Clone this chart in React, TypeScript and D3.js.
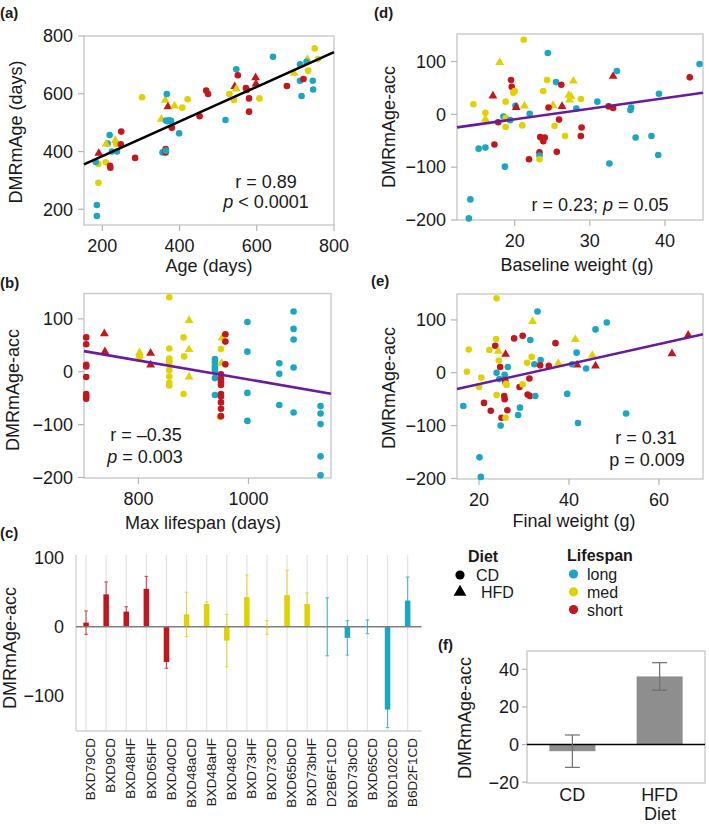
import React from 'react';
import * as d3 from 'd3';

const FONT = '"Liberation Sans", Arial, Helvetica, sans-serif';

// ---------- categories ----------
const lifespanCodes = ['L', 'M', 'S'];
const lifespanLabels = ['long', 'med', 'short'];
const lifespanColors = ['#1ba7c1', '#e0d200', '#c4161d'];
const dietCodes = ['C', 'H'];
const dietLabels = ['CD', 'HFD'];

type Pt = [number, number, string, string]; // x, y, lifespan, diet

// ---------- (a) Age vs DMRmAge ----------
const agePoints: Pt[] = [
  [186, 215, 'L', 'C'], [186, 177, 'L', 'C'], [190, 292, 'M', 'C'], [190, 357, 'M', 'C'], [183, 364, 'L', 'C'],
  [191, 394, 'S', 'H'], [209, 363, 'M', 'C'], [214, 428, 'L', 'C'], [210, 426, 'M', 'H'], [219, 457, 'L', 'C'],
  [220, 351, 'S', 'C'], [221, 344, 'S', 'C'], [225, 400, 'L', 'C'], [234, 438, 'M', 'H'], [236, 426, 'M', 'C'],
  [238, 400, 'L', 'C'], [249, 469, 'S', 'C'], [248, 425, 'S', 'C'], [285, 378, 'S', 'C'], [303, 588, 'M', 'C'],
  [356, 397, 'L', 'C'], [353, 512, 'M', 'H'], [363, 578, 'M', 'H'], [367, 599, 'L', 'C'], [370, 555, 'S', 'H'],
  [365, 507, 'L', 'C'], [369, 505, 'L', 'C'], [373, 508, 'L', 'C'], [378, 506, 'L', 'C'], [387, 558, 'M', 'H'],
  [364, 409, 'S', 'C'], [364, 397, 'S', 'C'], [365, 403, 'L', 'C'], [380, 482, 'S', 'C'], [399, 463, 'L', 'C'],
  [407, 552, 'M', 'C'], [421, 581, 'M', 'C'], [452, 522, 'S', 'C'], [469, 611, 'S', 'C'], [474, 599, 'S', 'C'],
  [519, 509, 'L', 'C'], [529, 599, 'M', 'C'], [541, 578, 'M', 'C'], [543, 625, 'S', 'H'], [547, 617, 'M', 'H'],
  [547, 685, 'L', 'C'], [551, 664, 'S', 'C'], [572, 620, 'S', 'C'], [574, 613, 'S', 'C'], [580, 584, 'S', 'C'],
  [580, 538, 'S', 'C'], [597, 656, 'S', 'H'], [598, 634, 'S', 'H'], [607, 584, 'M', 'C'], [642, 728, 'L', 'C'],
  [678, 627, 'S', 'C'], [697, 671, 'M', 'H'], [712, 702, 'L', 'C'], [712, 645, 'L', 'C'], [716, 592, 'L', 'C'],
  [721, 651, 'S', 'C'], [731, 719, 'M', 'H'], [729, 711, 'L', 'C'], [733, 680, 'M', 'C'], [750, 757, 'M', 'C'],
  [759, 720, 'M', 'C'], [745, 645, 'L', 'C'], [746, 615, 'L', 'C'],
];
const ageFit = [264, 0.6]; // intercept, slope
const ageTicksX = [200, 400, 600, 800];
const ageTicksY = [200, 400, 600, 800];

// ---------- (b) Max lifespan vs DMRmAge-acc ----------
const lifespanPoints: Pt[] = [
  [705, 65, 'S', 'C'], [705, 52, 'S', 'C'], [705, 13, 'S', 'C'], [705, 10, 'S', 'C'], [705, -10, 'S', 'C'],
  [705, -42, 'S', 'C'], [705, -47, 'S', 'C'], [705, -51, 'S', 'C'],
  [738, 72, 'S', 'H'], [739, 38, 'S', 'H'],
  [802, 36, 'M', 'H'], [802, 32, 'M', 'H'], [802, 28, 'M', 'C'],
  [822, 35, 'S', 'H'], [822, 13, 'S', 'H'],
  [856, 141, 'M', 'C'], [856, 44, 'M', 'C'], [856, 25, 'M', 'C'], [856, 21, 'M', 'C'], [856, 17, 'M', 'C'],
  [856, 3, 'M', 'C'], [856, -9, 'M', 'C'], [856, -21, 'M', 'C'], [856, -26, 'M', 'C'],
  [882, 65, 'M', 'C'], [883, 29, 'M', 'C'], [882, -42, 'M', 'C'],
  [892, 97, 'M', 'H'], [892, 42, 'M', 'H'], [892, -10, 'M', 'H'],
  [939, 24, 'L', 'C'], [939, 18, 'L', 'C'], [939, 11, 'L', 'C'], [939, 6, 'L', 'C'], [939, 1, 'L', 'C'],
  [939, -12, 'L', 'C'], [939, -44, 'L', 'C'],
  [950, 43, 'M', 'C'], [952, 64, 'M', 'H'], [951, 16, 'M', 'H'], [948, -85, 'M', 'C'],
  [950, -5, 'S', 'C'], [950, -14, 'S', 'C'], [950, -20, 'S', 'C'], [950, -25, 'S', 'C'], [950, -42, 'S', 'C'],
  [950, -47, 'S', 'C'], [950, -58, 'S', 'C'], [950, -70, 'S', 'C'], [950, -84, 'S', 'C'],
  [958, 71, 'S', 'C'], [958, 57, 'S', 'C'], [958, 14, 'S', 'C'],
  [998, 94, 'L', 'C'], [998, 38, 'L', 'C'], [998, -40, 'L', 'C'], [998, -93, 'L', 'C'],
  [1056, 16, 'L', 'C'], [1056, -4, 'L', 'C'], [1056, -63, 'L', 'C'],
  [1082, 114, 'L', 'C'], [1082, 81, 'L', 'C'], [1082, 61, 'L', 'C'], [1082, 8, 'L', 'C'], [1082, -77, 'L', 'C'],
  [1131, -65, 'L', 'C'], [1131, -79, 'L', 'C'], [1131, -99, 'L', 'C'], [1131, -160, 'L', 'C'], [1131, -196, 'L', 'C'],
];
const lifespanFit = [164.7, -0.1793];
const lifespanTicksX = [800, 1000];
const accTicksY = [-200, -100, 0, 100];

// ---------- (d) Baseline weight vs DMRmAge-acc ----------
const baselinePoints: Pt[] = [
  [14.5, 19, 'M', 'C'], [18.0, 98, 'M', 'H'], [21.2, 141, 'M', 'C'], [24.4, 116, 'L', 'C'], [19.5, 65, 'S', 'C'],
  [19.6, 52, 'S', 'C'], [20.0, 44, 'M', 'C'], [19.8, 41, 'M', 'C'], [21.3, 16, 'M', 'H'], [20.1, 16, 'L', 'C'],
  [20.2, 13, 'S', 'H'], [18.8, 24, 'M', 'C'], [17.1, 35, 'S', 'H'], [17.8, -15, 'S', 'C'], [16.1, 3, 'M', 'C'],
  [16.1, -9, 'M', 'H'], [18.5, -4, 'L', 'C'], [18.8, -7, 'M', 'C'], [18.8, -24, 'M', 'C'], [19.4, -11, 'L', 'C'],
  [22.0, 1, 'L', 'C'], [21.0, -21, 'M', 'C'], [17.3, -57, 'S', 'C'], [15.2, -65, 'L', 'C'], [16.1, -63, 'L', 'C'],
  [23.8, 44, 'M', 'C'], [24.3, 65, 'M', 'C'], [25.5, 61, 'L', 'C'], [26.2, 56, 'S', 'C'], [25.1, 17, 'M', 'H'],
  [24.5, 13, 'S', 'C'], [26.3, 15, 'S', 'H'], [27.8, 63, 'M', 'H'], [27.2, 36, 'M', 'H'], [27.5, 34, 'M', 'H'],
  [27.3, 27, 'M', 'H'], [28.8, 29, 'M', 'C'], [28.2, 11, 'L', 'C'], [25.9, -10, 'S', 'C'], [25.3, -22, 'M', 'C'],
  [23.4, -43, 'S', 'C'], [23.7, -46, 'S', 'C'], [23.8, -51, 'S', 'C'], [24.0, -44, 'S', 'C'], [26.7, -41, 'M', 'C'],
  [28.9, -25, 'S', 'C'], [28.8, -41, 'S', 'C'], [31.0, 24, 'L', 'C'], [32.5, 15, 'S', 'C'], [33.1, 12, 'S', 'C'],
  [33.1, 72, 'S', 'H'], [33.6, 82, 'L', 'C'], [35.5, 13, 'L', 'C'], [35.4, 8, 'L', 'C'], [36.1, -44, 'L', 'C'],
  [38.2, -41, 'L', 'C'], [39.2, 39, 'L', 'C'], [21.9, -85, 'S', 'C'], [23.3, -72, 'S', 'C'], [23.3, -78, 'L', 'C'],
  [23.3, -85, 'M', 'C'], [25.6, -71, 'S', 'C'], [18.7, -99, 'L', 'C'], [14.1, -161, 'L', 'C'], [13.9, -197, 'L', 'C'],
  [32.6, -93, 'L', 'C'], [39.1, -77, 'L', 'C'], [43.3, 70, 'S', 'C'], [44.6, 95, 'L', 'C'],
];
const baselineFit = [-49.5, 2.008];
const baselineTicksX = [20, 30, 40];

// ---------- (e) Final weight vs DMRmAge-acc ----------
const finalPoints: Pt[] = [
  [23.9, 141, 'M', 'C'], [17.7, 44, 'M', 'C'], [17.3, 2, 'M', 'C'], [20.5, -9, 'M', 'C'], [20.0, -27, 'M', 'C'],
  [16.5, -63, 'L', 'C'], [21.1, -57, 'S', 'C'], [22.6, -72, 'S', 'C'], [22.3, 43, 'M', 'C'], [23.6, 51, 'S', 'C'],
  [23.8, 64, 'M', 'C'], [24.3, 41, 'M', 'H'], [24.4, 23, 'M', 'C'], [23.9, 0, 'L', 'C'], [25.9, 35, 'S', 'H'],
  [24.7, 11, 'S', 'C'], [26.4, 11, 'L', 'C'], [24.5, -12, 'L', 'C'], [25.7, -4, 'L', 'C'], [25.8, -14, 'S', 'C'],
  [25.9, -19, 'S', 'C'], [26.0, -21, 'M', 'C'], [26.1, -23, 'M', 'C'], [23.9, -42, 'M', 'C'], [25.6, -44, 'S', 'C'],
  [25.7, -50, 'S', 'C'], [26.3, -71, 'S', 'C'], [25.0, -85, 'S', 'C'], [25.9, -85, 'M', 'C'], [24.8, -100, 'L', 'C'],
  [28.7, -80, 'L', 'C'], [29.1, -66, 'L', 'C'], [27.8, 65, 'S', 'C'], [29.7, 70, 'S', 'C'], [31.4, 62, 'L', 'C'],
  [31.9, 97, 'M', 'H'], [33.0, 116, 'L', 'C'], [29.0, -27, 'S', 'C'], [29.7, -22, 'M', 'C'], [30.8, -41, 'S', 'C'],
  [31.3, -44, 'S', 'C'], [32.5, -44, 'L', 'C'], [31.2, -11, 'S', 'C'], [30.7, 19, 'M', 'C'], [31.7, 30, 'M', 'C'],
  [32.3, 16, 'L', 'C'], [33.7, 24, 'L', 'C'], [33.6, 14, 'S', 'C'], [35.5, 13, 'S', 'C'], [37.0, 56, 'S', 'C'],
  [37.6, 18, 'M', 'H'], [39.6, -40, 'L', 'C'], [41.4, 63, 'M', 'H'], [41.7, 38, 'L', 'C'], [41.8, 15, 'S', 'H'],
  [40.7, 16, 'L', 'C'], [43.8, 8, 'L', 'C'], [45.2, 33, 'M', 'H'], [45.9, 13, 'S', 'H'], [45.9, 82, 'L', 'C'],
  [48.4, 95, 'L', 'C'], [42.0, -95, 'L', 'C'], [52.7, -77, 'L', 'C'], [62.9, 36, 'S', 'H'], [66.5, 71, 'S', 'H'],
  [20.1, -160, 'L', 'C'], [20.4, -197, 'L', 'C'],
];
const finalFit = [-59.5, 1.894];
const finalTicksX = [20, 40, 60];

// ---------- (c) strain means ----------
const strains = ['BXD79CD', 'BXD9CD', 'BXD48HF', 'BXD65HF', 'BXD40CD', 'BXD48aCD', 'BXD48aHF', 'BXD48CD',
  'BXD73HF', 'BXD73CD', 'BXD65bCD', 'BXD73bHF', 'D2B6F1CD', 'BXD73bCD', 'BXD65CD', 'BXD102CD', 'B6D2F1CD'];
const strainLifespan = ['S', 'S', 'S', 'S', 'S', 'M', 'M', 'M', 'M', 'M', 'M', 'M', 'L', 'L', 'L', 'L', 'L'];
const strainMean = [6, 47, 22, 55, -51, 18, 33, -20, 43, -1, 46, 33, 0, -16, 0, -120, 38];
const strainSE = [17, 18, 7, 18, 9, 32, 3, 38, 32, 10, 36, 16, 42, 25, 10, 26, 34];
const strainTicksY = [-100, 0, 100];

// ---------- (f) diet means ----------
const dietMean = [-3.5, 36.2];
const dietSE = [8.6, 7.3];
const dietTicksY = [-20, 0, 20, 40];

// ---------- helpers ----------
const fmt = (v: number) => (v < 0 ? `\u2212${Math.abs(v)}` : `${v}`);
const colorOf = d3.scaleOrdinal<string, string>().domain(lifespanCodes).range(lifespanColors);
const triPath = d3.symbol().type(d3.symbolTriangle).size(34)();
const triLegend = d3.symbol().type(d3.symbolTriangle).size(70)();

type Frame = { l: number; r: number; t: number; b: number };
type NotePart = [string, boolean];

function Scatter(props: {
  f: Frame; xDom: number[]; yDom: number[]; xTicks: number[]; yTicks: number[]; pts: Pt[];
  fit: number[]; fitColor: string; xTitle: string; yTitle: string; yTitleX: number; yTitleY: number;
  xTitleX: number; xTitleY: number; notes: { x: number; y: number; parts: NotePart[] }[];
}) {
  const { f, xDom, yDom, xTicks, yTicks, pts, fit, fitColor, xTitle, yTitle, yTitleX, yTitleY, xTitleX, xTitleY, notes } = props;
  const x = d3.scaleLinear().domain(xDom).range([f.l, f.r]);
  const y = d3.scaleLinear().domain(yDom).range([f.b, f.t]);
  const line = d3.line<number>().x((v) => x(v)).y((v) => y(fit[0] + fit[1] * v));
  return (
    <g>
      <rect x={f.l} y={f.t} width={f.r - f.l} height={f.b - f.t} fill="none" stroke="#c9c9c9" strokeWidth={1.4} />
      {xTicks.map((t) => (
        <g key={'x' + t}>
          <line x1={x(t)} x2={x(t)} y1={f.b} y2={f.b + 6} stroke="#b5b5b5" strokeWidth={1.2} />
          <text x={x(t)} y={f.b + 27} textAnchor="middle" fontSize={18}>{fmt(t)}</text>
        </g>
      ))}
      {yTicks.map((t) => (
        <g key={'y' + t}>
          <line x1={f.l - 6} x2={f.l} y1={y(t)} y2={y(t)} stroke="#b5b5b5" strokeWidth={1.2} />
          <text x={f.l - 11} y={y(t)} dy="0.35em" textAnchor="end" fontSize={18}>{fmt(t)}</text>
        </g>
      ))}
      {pts.map((p, i) =>
        p[3] === 'C' ? (
          <circle key={i} cx={x(p[0])} cy={y(p[1])} r={3.3} fill={colorOf(p[2])} />
        ) : (
          <path key={i} d={triPath as string} transform={`translate(${x(p[0])},${y(p[1])})`} fill={colorOf(p[2])} />
        )
      )}
      <path d={line(xDom) as string} stroke={fitColor} strokeWidth={2.6} fill="none" />
      {notes.map((n, i) => (
        <text key={i} x={n.x} y={n.y} textAnchor="middle" fontSize={18}>
          {n.parts.map((pt, j) => (
            <tspan key={j} fontStyle={pt[1] ? 'italic' : 'normal'}>{pt[0]}</tspan>
          ))}
        </text>
      ))}
      <text x={xTitleX} y={xTitleY} textAnchor="middle" fontSize={18}>{xTitle}</text>
      <text transform={`translate(${yTitleX},${yTitleY}) rotate(-90)`} dy="0.35em" textAnchor="middle" fontSize={18}>{yTitle}</text>
    </g>
  );
}

function StrainBars() {
  const f = { l: 76, r: 421.5, t: 555, b: 731 };
  const x = d3.scaleBand<string>().domain(strains).range([76, 417.7]).padding(0);
  const y = d3.scaleLinear().domain([-151, 104]).range([f.b, f.t]);
  const cx = (s: string) => (x(s) as number) + x.bandwidth() / 2;
  const bw = 5.5;
  return (
    <g>
      {strains.map((s) => (
        <line key={'g' + s} x1={cx(s)} x2={cx(s)} y1={f.t} y2={f.b} stroke="#e3e3e3" strokeWidth={1.2} />
      ))}
      <line x1={f.l} x2={f.l} y1={f.t} y2={f.b} stroke="#cfcfcf" strokeWidth={1.3} />
      <line x1={f.l} x2={f.r} y1={f.b} y2={f.b} stroke="#cfcfcf" strokeWidth={1.3} />
      {strainTicksY.map((t) => (
        <text key={t} x={64} y={y(t)} dy="0.35em" textAnchor="end" fontSize={18}>{fmt(t)}</text>
      ))}
      {strains.map((s, i) => {
        const m = strainMean[i];
        const c = colorOf(strainLifespan[i]);
        return (
          <rect key={'b' + s} x={cx(s) - bw / 2} y={y(Math.max(0, m))} width={bw}
            height={Math.abs(y(m) - y(0))} fill={c} />
        );
      })}
      <line x1={f.l} x2={f.r} y1={y(0)} y2={y(0)} stroke="#7f7f7f" strokeWidth={1.6} />
      {strains.map((s, i) => {
        const m = strainMean[i];
        const e = strainSE[i];
        const c = colorOf(strainLifespan[i]);
        return (
          <g key={'e' + s} stroke={c} strokeWidth={1.1} opacity={0.75}>
            <line x1={cx(s)} x2={cx(s)} y1={y(m + e)} y2={y(m - e)} />
            <line x1={cx(s) - 1.8} x2={cx(s) + 1.8} y1={y(m + e)} y2={y(m + e)} />
            <line x1={cx(s) - 1.8} x2={cx(s) + 1.8} y1={y(m - e)} y2={y(m - e)} />
          </g>
        );
      })}
      {strains.map((s) => (
        <text key={'t' + s} transform={`translate(${cx(s) + 4.5},738) rotate(-90)`} dy="0.35em"
          textAnchor="end" fontSize={13.5}>{s}</text>
      ))}
      <text transform="translate(10,648) rotate(-90)" dy="0.35em" textAnchor="middle" fontSize={18}>DMRmAge-acc</text>
    </g>
  );
}

function DietBars() {
  const f = { l: 527, r: 705, t: 651, b: 783 };
  const x = d3.scaleBand<string>().domain(dietLabels).range([f.l, f.r]).paddingInner(0.48).paddingOuter(0.26);
  const y = d3.scaleLinear().domain([-20.4, 49.7]).range([f.b, f.t]);
  const bw = 46;
  return (
    <g>
      <rect x={f.l} y={f.t} width={f.r - f.l} height={f.b - f.t} fill="none" stroke="#c9c9c9" strokeWidth={1.4} />
      {dietTicksY.map((t) => (
        <g key={t}>
          <line x1={f.l - 5} x2={f.l} y1={y(t)} y2={y(t)} stroke="#b5b5b5" strokeWidth={1.2} />
          <text x={f.l - 8} y={y(t)} dy="0.35em" textAnchor="end" fontSize={18}>{fmt(t)}</text>
        </g>
      ))}
      {dietLabels.map((d, i) => {
        const c = (x(d) as number) + x.bandwidth() / 2;
        const m = dietMean[i];
        return (
          <rect key={'b' + d} x={c - bw / 2} y={y(Math.max(0, m))} width={bw} height={Math.abs(y(m) - y(0))} fill="#8e8e8e" />
        );
      })}
      <line x1={f.l} x2={f.r} y1={y(0)} y2={y(0)} stroke="#000" strokeWidth={1.5} />
      {dietLabels.map((d, i) => {
        const c = (x(d) as number) + x.bandwidth() / 2;
        const m = dietMean[i];
        const e = dietSE[i];
        return (
          <g key={'e' + d} stroke="#707070" strokeWidth={1.2}>
            <line x1={c} x2={c} y1={y(m + e)} y2={y(m - e)} />
            <line x1={c - 7.5} x2={c + 7.5} y1={y(m + e)} y2={y(m + e)} />
            <line x1={c - 7.5} x2={c + 7.5} y1={y(m - e)} y2={y(m - e)} />
          </g>
        );
      })}
      {dietLabels.map((d) => (
        <text key={'t' + d} x={(x(d) as number) + x.bandwidth() / 2} y={801} textAnchor="middle" fontSize={18}>{d}</text>
      ))}
      <text x={660} y={820} textAnchor="middle" fontSize={18}>Diet</text>
      <text transform="translate(465,718) rotate(-90)" dy="0.35em" textAnchor="middle" fontSize={18}>DMRmAge-acc</text>
    </g>
  );
}

function Legend() {
  return (
    <g fontSize={16}>
      <text x={483} y={562} textAnchor="middle" fontWeight="bold">Diet</text>
      {dietLabels.map((d, i) =>
        dietCodes[i] === 'C' ? (
          <g key={d}>
            <circle cx={460} cy={575} r={4.6} fill="#000" />
            <text x={476} y={581}>{d}</text>
          </g>
        ) : (
          <g key={d}>
            <path d={triLegend as string} transform="translate(460,592)" fill="#000" />
            <text x={481} y={598}>{d}</text>
          </g>
        )
      )}
      <text x={600} y={561} textAnchor="middle" fontWeight="bold">Lifespan</text>
      {lifespanLabels.map((l, i) => (
        <g key={l}>
          <circle cx={573.5} cy={574 + 17.8 * i} r={4.6} fill={lifespanColors[i]} />
          <text x={587} y={580 + 17.8 * i}>{l}</text>
        </g>
      ))}
    </g>
  );
}

export default function App() {
  return (
    <svg width={709} height={824} style={{ position: 'absolute', left: 0, top: 0, background: '#fff' }}
      fontFamily={FONT} fill="#1a1a1a">
      <rect x={0} y={0} width={709} height={824} fill="#fff" />
      <g fontWeight="bold" fontSize={15}>
        <text x={0} y={18}>(a)</text>
        <text x={374} y={18}>(d)</text>
        <text x={0} y={288}>(b)</text>
        <text x={371} y={286}>(e)</text>
        <text x={0} y={538}>(c)</text>
        <text x={438} y={650}>(f)</text>
      </g>
      <Scatter f={{ l: 84, r: 334, t: 36, b: 225 }} xDom={[152.7, 800]} yDom={[145.6, 800]}
        xTicks={ageTicksX} yTicks={ageTicksY} pts={agePoints} fit={ageFit} fitColor="#000"
        xTitle="Age (days)" xTitleX={209} xTitleY={272} yTitle="DMRmAge (days)" yTitleX={16} yTitleY={132}
        notes={[{ x: 266, y: 188, parts: [['r = 0.89', false]] }, { x: 266, y: 208, parts: [['p', true], [' < 0.0001', false]] }]} />
      <Scatter f={{ l: 84, r: 331, t: 293.5, b: 478 }} xDom={[701, 1150]} yDom={[-201, 148]}
        xTicks={lifespanTicksX} yTicks={accTicksY} pts={lifespanPoints} fit={lifespanFit} fitColor="#6a1b9a"
        xTitle="Max lifespan (days)" xTitleX={203} xTitleY={529} yTitle="DMRmAge-acc" yTitleX={13} yTitleY={390}
        notes={[{ x: 146, y: 441, parts: [['r = \u20130.35', false]] }, { x: 145, y: 463, parts: [['p', true], [' = 0.003', false]] }]} />
      <Scatter f={{ l: 457, r: 703, t: 34, b: 220 }} xDom={[12.32, 45.06]} yDom={[-200, 152]}
        xTicks={baselineTicksX} yTicks={accTicksY} pts={baselinePoints} fit={baselineFit} fitColor="#6a1b9a"
        xTitle="Baseline weight (g)" xTitleX={577} xTitleY={271} yTitle="DMRmAge-acc" yTitleX={389} yTitleY={127}
        notes={[{ x: 600, y: 211, parts: [['r = 0.23; ', false], ['p', true], [' = 0.05', false]] }]} />
      <Scatter f={{ l: 457, r: 703, t: 294, b: 479 }} xDom={[15.1, 69.8]} yDom={[-201, 149]}
        xTicks={finalTicksX} yTicks={accTicksY} pts={finalPoints} fit={finalFit} fitColor="#6a1b9a"
        xTitle="Final weight (g)" xTitleX={574} xTitleY={527} yTitle="DMRmAge-acc" yTitleX={389} yTitleY={388}
        notes={[{ x: 646, y: 444, parts: [['r = 0.31', false]] }, { x: 647, y: 466, parts: [['p = 0.009', false]] }]} />
      <StrainBars />
      <Legend />
      <DietBars />
    </svg>
  );
}
